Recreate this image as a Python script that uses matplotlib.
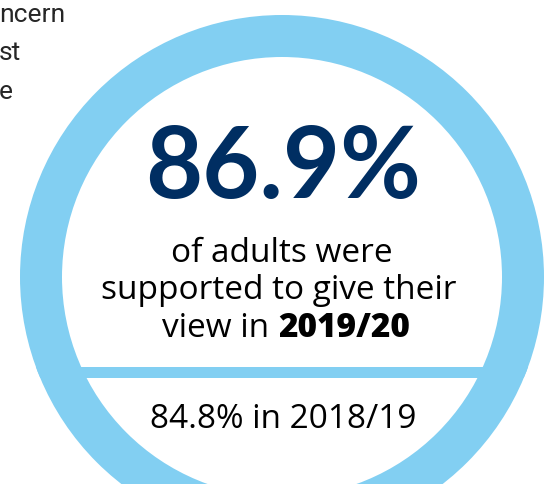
import matplotlib
matplotlib.use('Agg')
from matplotlib import pyplot as plt
from matplotlib.patches import Circle, Rectangle

# valores do indicador
ano_atual = '2019/20'
pct_atual = 86.9
ano_anterior = '2018/19'
pct_anterior = 84.8
linhas_texto = ['of adults were', 'supported to give their', 'view in ']
texto_lateral = ['ncern', 'st', 'e']

azul_claro = '#82cff2'
azul_escuro = '#002e62'
fonte_corpo = 'Open Sans'
tam_corpo = 24

fig = plt.figure(figsize=(5.54, 4.84), dpi=100)
ax = fig.add_axes([0, 0, 1, 1])
ax.set_xlim(0, 554)
ax.set_ylim(484, 0)
ax.set_aspect('equal')
ax.axis('off')

# anel azul com faixa horizontal
cx, cy = 282, 277
r_ext, r_int = 262, 220
anel = Circle((cx, cy), r_ext, color=azul_claro, lw=0)
ax.add_patch(anel)
ax.add_patch(Circle((cx, cy), r_int, color='white', lw=0))
faixa = Rectangle((0, 367), 554, 11, color=azul_claro, lw=0)
faixa.set_clip_path(anel)
ax.add_patch(faixa)

# texto cortado do paragrafo ao lado
for i, t in enumerate(texto_lateral):
    ax.text(-1, 22 + 38.5 * i, t, fontsize=19, family='Roboto', weight='normal',
            color='#262626', va='baseline', ha='left')

# numero principal
ax.text(cx + 1, 198, f'{pct_atual}%', fontsize=71, family='Lato', weight='bold',
        color=azul_escuro, ha='center', va='baseline')

ax.text(cx, 262, linhas_texto[0], fontsize=tam_corpo, family=fonte_corpo, color='black',
        ha='center', va='baseline')
ax.text(cx - 3, 299, linhas_texto[1], fontsize=tam_corpo, family=fonte_corpo, color='black',
        ha='center', va='baseline')

# ultima linha mistura peso normal e negrito
fig.canvas.draw()
r = fig.canvas.get_renderer()
t1 = ax.text(0, 337, linhas_texto[2], fontsize=tam_corpo, family=fonte_corpo, color='black',
             ha='left', va='baseline')
t2 = ax.text(0, 337, ano_atual, fontsize=tam_corpo, family=fonte_corpo, weight='heavy',
             color='black', ha='left', va='baseline')
w1 = t1.get_window_extent(r).width
w2 = t2.get_window_extent(r).width
x0 = cx + 4 - (w1 + w2) / 2
t1.set_x(x0)
t2.set_x(x0 + w1)

ax.text(cx + 1, 428, f'{pct_anterior}% in {ano_anterior}', fontsize=tam_corpo,
        family=fonte_corpo, color='black', ha='center', va='baseline')

plt.savefig('out.png', dpi=100)
